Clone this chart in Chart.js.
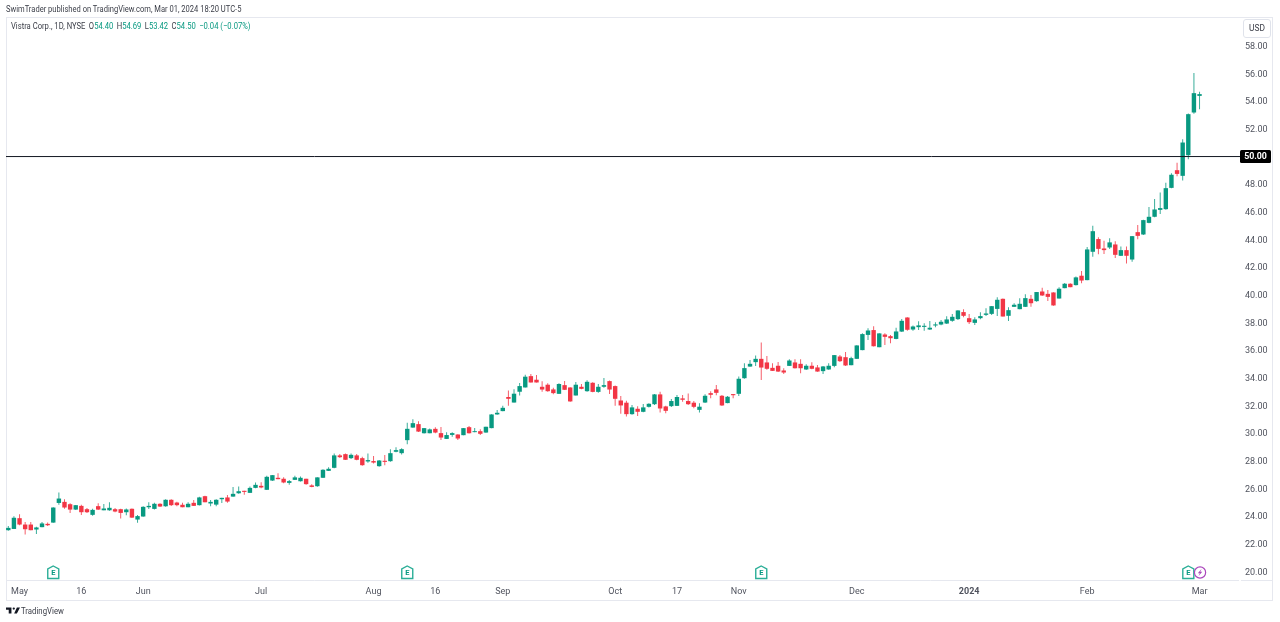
<!DOCTYPE html>
<html>
<head>
<meta charset="utf-8">
<title>Vistra Corp., 1D, NYSE</title>
<script src="https://cdn.jsdelivr.net/npm/chart.js@4/dist/chart.umd.min.js"></script>
<style>
	html,body{margin:0;padding:0;background:#fff;font-family:Roboto,"Noto Sans",sans-serif;overflow:hidden}
	#wrap{position:relative;width:1280px;height:622px}
	#price-chart{position:absolute;left:0;top:0}
	.t{position:absolute;white-space:nowrap;line-height:12px;transform-origin:left center}
	#published{left:6px;top:3px;font-size:9px;color:#3a3d47;transform:scaleX(.84)}
	#legend{left:11px;top:20px;font-size:9px;color:#3a3d47;transform:scaleX(.85)}
	#legend b{font-weight:400;color:#089981}
	#legend span{margin-left:4px}
	#usd{left:1243px;top:19px;width:26px;height:17px;line-height:17px;text-align:center;font-size:8.4px;color:#3a3d47;border:1px solid #e0e3eb;border-radius:3px;box-sizing:content-box}
	#brand{left:21px;top:605px;font-size:9px;color:#3a3d47;transform:scaleX(.865)}
	#logo{position:absolute;left:6px;top:606px;width:14px;height:9px}
</style>
</head>
<body>
<div id="wrap">
	<canvas id="price-chart" width="1280" height="622" style="width:1280px;height:622px"></canvas>
	<div class="t" id="published">SwimTrader published on TradingView.com, Mar 01, 2024 18:20 UTC-5</div>
	<div class="t" id="legend">Vistra Corp., 1D, NYSE<span>O<b>54.40</b></span><span>H<b>54.69</b></span><span>L<b>53.42</b></span><span>C<b>54.50</b></span><span><b>−0.04 (−0.07%)</b></span></div>
	<div class="t" id="usd">USD</div>
	<svg id="logo" viewBox="0 0 36 20"><path d="M14 2H0v6h7v10h7z M28 18h-7l7-16h8z" fill="#131722"/><circle cx="20" cy="5" r="3" fill="#131722"/></svg>
	<div class="t" id="brand">TradingView</div>
</div>
<script>
(function(){
	const GREEN = '#089981', RED = '#F23645';

	// open, high, low, close per session, starting Apr 27 2023
	const bars = [
		[23.00,23.29,22.95,23.14],[23.09,23.99,23.07,23.87],[23.84,24.13,23.34,23.41],[23.38,23.58,22.68,23.07],[23.38,23.58,22.98,23.00],
		[23.05,23.24,22.71,23.17],[23.22,23.58,23.19,23.46],[23.43,23.55,23.29,23.36],[23.55,24.64,23.53,24.61],[24.97,25.72,24.83,25.26],
		[25.02,25.22,24.54,24.64],[24.85,24.93,24.23,24.49],[24.49,24.81,24.44,24.78],[24.73,24.83,24.08,24.30],[24.49,24.59,24.23,24.30],
		[24.11,24.54,24.03,24.44],[24.71,24.93,24.44,24.49],[24.44,24.88,24.42,24.54],[24.44,25.00,24.40,24.59],[24.49,24.59,24.28,24.35],
		[24.49,24.54,23.84,24.25],[24.30,24.56,24.06,24.47],[24.52,24.56,23.87,23.91],[23.77,24.08,23.53,23.99],[23.99,24.71,23.96,24.66],
		[24.66,25.00,24.52,24.73],[24.54,24.97,24.49,24.88],[24.88,24.93,24.66,24.71],[24.73,25.22,24.68,25.17],[25.17,25.22,24.73,24.81],
		[24.97,25.05,24.71,24.81],[24.81,24.97,24.64,24.66],[24.66,25.00,24.64,24.88],[24.95,25.17,24.73,24.76],[24.81,25.41,24.78,25.34],
		[25.43,25.48,25.00,25.02],[24.93,25.17,24.71,25.02],[24.85,25.22,24.71,25.17],[25.24,25.34,24.95,25.31],[25.34,25.53,24.97,25.07],
		[25.43,26.11,25.41,25.60],[25.67,26.15,25.62,25.79],[25.82,25.84,25.55,25.77],[25.70,26.15,25.67,26.03],[26.06,26.44,26.01,26.25],
		[26.18,26.45,26.01,26.09],[25.92,26.93,25.89,26.83],[26.59,26.98,26.54,26.95],[26.76,27.10,26.67,26.69],[26.69,26.81,26.38,26.45],
		[26.42,26.62,26.28,26.52],[26.64,26.93,26.62,26.79],[26.54,26.86,26.50,26.76],[26.69,26.71,26.28,26.33],[26.21,26.30,26.09,26.13],
		[26.18,26.81,26.13,26.79],[26.79,27.39,26.76,27.34],[27.29,27.53,27.27,27.41],[27.51,28.54,27.46,28.38],[28.38,28.50,28.21,28.28],
		[28.47,28.54,28.06,28.09],[28.21,28.54,28.13,28.42],[28.38,28.50,28.04,28.09],[28.18,28.30,27.65,27.70],[27.97,28.54,27.87,28.04],
		[27.97,28.35,27.80,27.89],[27.63,28.06,27.58,28.01],[27.99,28.42,27.68,27.94],[27.99,28.83,27.94,28.54],[28.67,28.98,28.62,28.76],
		[28.57,28.91,28.45,28.83],[29.51,30.76,29.20,30.30],[30.42,31.00,30.40,30.71],[30.64,30.86,30.09,30.13],[30.01,30.38,29.97,30.35],
		[30.01,30.33,29.99,30.26],[30.30,30.42,29.99,30.06],[29.99,30.45,29.51,29.70],[29.60,30.06,29.58,29.85],[29.89,30.06,29.75,29.99],
		[29.89,29.92,29.51,29.63],[29.87,30.38,29.85,30.35],[30.42,30.52,29.97,30.01],[30.09,30.38,30.06,30.13],[30.13,30.28,29.87,29.97],
		[30.06,30.47,30.04,30.45],[30.38,31.36,30.35,31.34],[31.37,31.68,31.34,31.46],[31.61,31.99,31.58,31.82],[32.60,33.08,31.99,32.50],
		[32.23,33.17,32.21,32.84],[33.01,33.63,32.72,33.39],[33.32,34.23,33.30,34.07],[34.11,34.28,33.66,33.68],[33.85,34.21,33.66,33.68],
		[33.34,33.75,33.00,33.17],[33.49,33.61,33.00,33.05],[33.15,33.29,32.81,32.91],[32.86,33.61,32.84,33.54],[33.46,33.78,33.13,33.15],
		[33.29,33.32,32.28,32.31],[32.74,33.70,32.72,33.49],[33.34,33.56,33.17,33.22],[33.05,33.82,33.00,33.70],[33.63,33.68,32.96,33.00],
		[33.00,33.56,32.93,33.34],[33.37,33.99,33.29,33.46],[33.75,33.80,32.84,33.17],[33.39,33.44,31.99,32.50],[32.35,32.69,31.41,32.02],
		[32.19,32.35,31.20,31.39],[31.39,32.04,31.34,31.85],[31.75,31.95,31.25,31.56],[31.56,32.11,31.51,31.85],[31.92,32.16,31.85,32.11],
		[32.11,32.84,32.04,32.79],[32.79,33.00,31.49,31.80],[31.92,31.99,31.44,31.63],[31.97,32.47,31.90,32.31],[31.99,32.76,31.97,32.60],
		[32.50,32.76,32.28,32.43],[32.31,32.86,32.04,32.11],[32.19,32.33,31.80,31.92],[31.70,32.16,31.49,31.90],[32.23,32.81,32.19,32.69],
		[32.88,33.03,32.52,32.79],[33.15,33.49,32.74,32.93],[32.69,32.76,31.97,32.02],[32.19,32.69,32.16,32.62],[32.81,32.84,32.52,32.76],
		[32.86,34.09,32.69,33.92],[33.99,35.05,33.94,34.69],[34.83,35.29,34.81,35.00],[35.15,35.61,34.86,35.36],[35.36,36.55,33.85,34.76],
		[35.10,35.58,34.59,34.67],[34.71,35.05,34.50,34.52],[34.86,35.15,34.43,34.47],[34.52,34.69,34.28,34.40],[34.88,35.34,34.86,35.24],
		[35.10,35.34,34.67,34.71],[35.00,35.34,34.33,34.71],[34.62,34.98,34.57,34.86],[34.86,35.12,34.62,34.67],[34.74,34.93,34.45,34.47],
		[34.50,34.86,34.28,34.81],[34.62,35.05,34.59,34.86],[34.88,35.65,34.76,35.63],[35.53,35.65,35.15,35.22],[35.48,35.87,34.86,34.91],
		[34.93,35.53,34.91,35.41],[35.39,36.35,35.36,36.33],[36.02,37.22,36.00,37.15],[37.12,37.58,36.74,37.41],[37.44,37.73,36.26,36.30],
		[36.23,37.22,36.21,37.20],[37.12,37.22,36.38,36.98],[37.00,37.10,36.50,36.88],[36.83,37.63,36.79,37.34],[37.36,38.26,37.32,38.11],
		[38.35,38.38,37.41,37.49],[37.51,37.78,37.41,37.70],[37.68,38.09,37.46,37.78],[37.70,37.94,37.41,37.75],[37.51,38.11,37.46,37.61],
		[37.80,38.02,37.65,37.85],[37.87,38.18,37.80,38.04],[37.94,38.45,37.90,38.21],[38.14,38.62,38.06,38.40],[38.26,38.88,38.18,38.86],
		[38.74,38.96,38.38,38.50],[38.30,38.62,37.90,38.04],[37.99,38.38,37.82,38.21],[38.33,38.74,38.23,38.45],[38.57,39.03,38.47,38.64],
		[38.64,39.20,38.55,39.17],[39.00,39.82,38.47,39.63],[39.70,39.73,38.43,38.45],[38.50,39.10,38.11,38.88],[39.15,39.39,39.13,39.27],
		[38.98,39.75,38.96,39.34],[39.15,40.04,39.13,39.75],[39.70,39.99,39.15,39.41],[39.56,40.21,39.51,40.19],[40.23,40.52,39.92,39.97],
		[40.06,40.35,39.56,39.87],[40.16,40.19,39.22,39.25],[39.75,40.55,39.73,40.43],[40.50,40.86,40.47,40.79],[40.79,40.84,40.55,40.57],
		[40.72,41.32,40.67,41.25],[41.37,41.73,40.84,41.05],[41.08,43.46,41.05,43.27],[43.13,45.00,42.76,44.59],[44.02,44.16,42.93,43.34],
		[43.34,43.92,42.96,43.25],[43.44,44.09,43.32,43.78],[43.63,43.87,42.67,42.91],[42.84,43.49,42.81,43.22],[43.22,43.49,42.26,42.84],
		[42.57,44.26,42.40,44.23],[44.52,45.05,44.02,44.28],[44.38,45.44,44.33,45.39],[45.22,46.35,45.17,45.63],[45.66,46.93,45.61,46.16],
		[46.16,47.41,45.85,46.26],[46.21,48.11,46.16,47.70],[47.75,48.79,47.70,48.67],[49.00,49.56,48.57,48.76],[48.62,51.25,48.26,51.00],
		[50.11,53.12,49.80,53.05],[53.20,56.04,53.10,54.57],[54.40,54.69,53.42,54.50]
	];

	// session index -> axis label
	const timeTicks = {2:'May',13:'16',24:'Jun',45:'Jul',65:'Aug',76:'16',88:'Sep',108:'Oct',119:'17',130:'Nov',151:'Dec',171:'2024',192:'Feb',212:'Mar'};
	const earnings = [8, 71, 134, 210];
	const dividend = 212;
	const X_MIN = -0.41, X_MAX = 219.2;

	const colorOf = (b) => b[3] >= b[0] ? GREEN : RED;
	const colors = bars.map(colorOf);

	// frame, price tag and event pins, everything else comes from the datasets
	const extras = {
		id: 'extras',
		beforeDatasetsDraw(c){
			const g = c.ctx;
			g.save();
			g.strokeStyle = '#e6e8ef';
			g.lineWidth = 1;
			g.strokeRect(6.5, 17.5, 1266, 583);
			g.beginPath(); g.moveTo(6, 580.5); g.lineTo(1239, 580.5); g.moveTo(1241, 580.5); g.lineTo(1273, 580.5); g.stroke();
			g.restore();
		},
		afterDraw(c){
			const g = c.ctx, xs = c.scales.x, ys = c.scales.y;
			g.save();
			// 50.00 tag
			const y50 = ys.getPixelForValue(50);
			g.fillStyle = '#000';
			g.beginPath(); g.roundRect(1240, y50 - 6.5, 31, 13, 1.5); g.fill();
			g.fillStyle = '#fff';
			g.font = 'bold 8.8px Roboto';
			g.textAlign = 'center';
			g.textBaseline = 'middle';
			g.fillText('50.00', 1255.5, y50 + 0.5);
			// earnings pins
			earnings.forEach(i => {
				const px = xs.getPixelForValue(i), top = 566, bot = 578.5;
				g.strokeStyle = '#2bae97';
				g.fillStyle = '#fff';
				g.lineWidth = 1.4;
				g.beginPath();
				g.moveTo(px, top);
				g.lineTo(px + 5.5, top + 3);
				g.lineTo(px + 5.5, bot);
				g.lineTo(px - 5.5, bot);
				g.lineTo(px - 5.5, top + 3);
				g.closePath();
				g.fill(); g.stroke();
				g.fillStyle = '#089981';
				g.font = 'bold 7.5px Roboto';
				g.fillText('E', px, 573);
			});
			// dividend pin
			const dx = xs.getPixelForValue(dividend) + 0.5;
			g.strokeStyle = '#ab47bc';
			g.fillStyle = '#fff';
			g.lineWidth = 1.2;
			g.beginPath(); g.arc(dx, 572.5, 5.6, 0, Math.PI*2); g.fill(); g.stroke();
			g.fillStyle = '#ab47bc';
			g.beginPath();
			g.moveTo(dx + 1.6, 568.8); g.lineTo(dx - 2.2, 573.2); g.lineTo(dx - 0.2, 573.2);
			g.lineTo(dx - 1.6, 576.2); g.lineTo(dx + 2.2, 571.8); g.lineTo(dx + 0.2, 571.8);
			g.closePath(); g.fill();
			g.restore();
		}
	};

	new Chart(document.getElementById('price-chart'), {
		type: 'bar',
		data: {
			datasets: [
				{
					type: 'line', order: 0, data: [{x:X_MIN,y:50},{x:X_MAX,y:50}],
					borderColor: '#131722', borderWidth: 1, pointRadius: 0
				},
				{
					order: 1, grouped: false, barThickness: 4, borderWidth: 0, inflateAmount: 0.2,
					data: bars.map((b,i)=>({x:i, y:[b[0],b[3]]})),
					backgroundColor: colors
				},
				{
					order: 2, grouped: false, barThickness: 1, borderWidth: 0, inflateAmount: 0,
					data: bars.map((b,i)=>({x:i, y:[b[2],b[1]]})),
					backgroundColor: colors.map(c => c + 'cc')
				}
			]
		},
		options: {
			responsive: false,
			animation: false,
			layout: { padding: { left: 6, right: 0, top: 17, bottom: 0 } },
			plugins: { legend: { display: false }, tooltip: { enabled: false } },
			scales: {
				x: {
					type: 'linear', min: X_MIN, max: X_MAX, offset: false,
					grid: { display: false, drawTicks: false }, border: { display: false },
					afterBuildTicks(s){ s.ticks = Object.keys(timeTicks).map(k => ({ value: +k })); },
					afterFit(s){ s.height = 42; s.paddingLeft = 0; s.paddingRight = 0; },
					ticks: {
						autoSkip: false, maxRotation: 0, padding: 6,
						color: '#50535e',
						font: (ctx) => ({ family: 'Roboto', size: 9, weight: ctx.tick && ctx.tick.value === 171 ? 'bold' : 'normal' }),
						callback: (v) => timeTicks[v]
					}
				},
				y: {
					position: 'right',
					min: 19.385, max: 60.09,
					grid: { display: false, drawTicks: false }, border: { display: false },
					afterBuildTicks(s){ s.ticks = Array.from({length:20}, (_,i)=>({ value: 20 + i*2 })); },
					afterFit(s){ s.width = 40; s.paddingTop = 0; s.paddingBottom = 0; },
					ticks: {
						padding: 5, labelOffset: 0.8,
						color: '#50535e',
						font: { family: 'Roboto', size: 9 },
						callback: (v) => v === 50 ? '' : v.toFixed(2)
					}
				}
			}
		},
		plugins: [extras]
	});
})();
</script>
</body>
</html>
